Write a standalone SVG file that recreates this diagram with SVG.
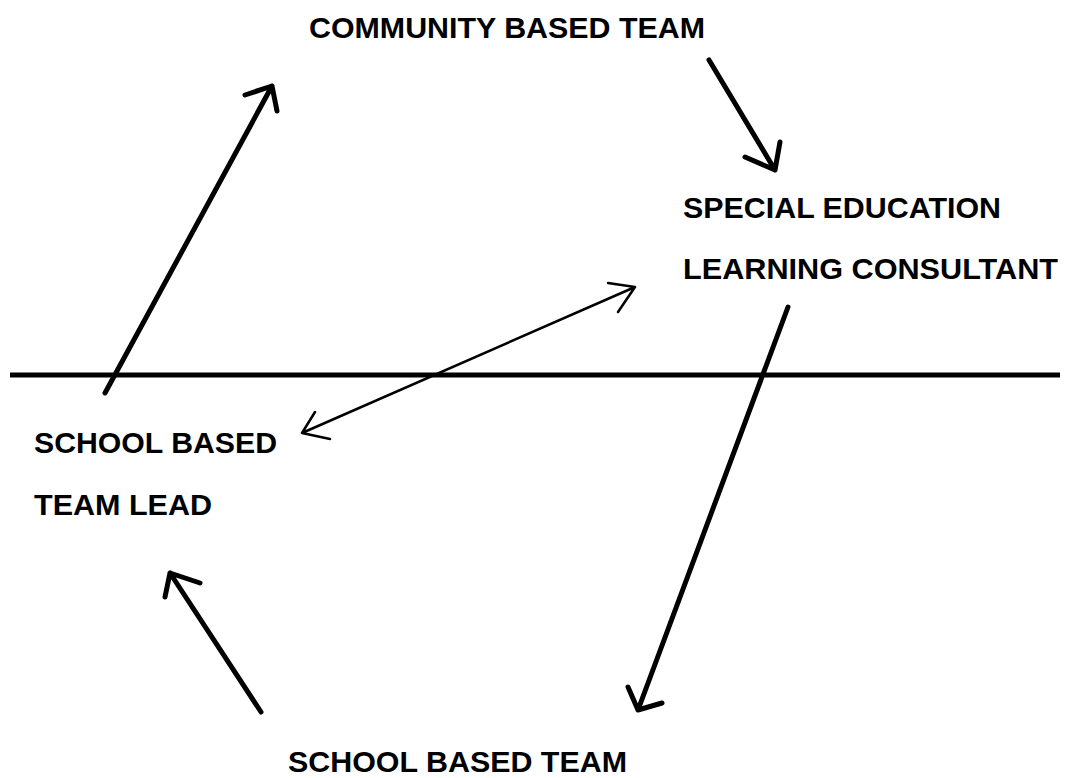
<svg xmlns="http://www.w3.org/2000/svg" width="1067" height="778" viewBox="0 0 1067 778">
<style>
.lbl{font-family:"Liberation Sans",Arial,sans-serif;font-weight:bold;font-size:30px;fill:#000}
.thick{fill:none;stroke:#000;stroke-width:5;stroke-linecap:round;stroke-linejoin:round}
.thin{fill:none;stroke:#000;stroke-width:2.5;stroke-linecap:round;stroke-linejoin:round}
</style>
<rect width="1067" height="778" fill="#fff"/>
<g id="connectors">
<line x1="10" y1="375" x2="1060" y2="375" stroke="#000" stroke-width="5"/>
<path class="thick" d="M105 393 L272 86 M245 95 L272 86 L277 111"/>
<path class="thick" d="M709 60 L775 170 M745 157 L775 170 L780 142"/>
<path class="thin" d="M302 433 L635 287 M608 283 L635 287 L618 312 M315 412 L302 433 L330 439"/>
<path class="thick" d="M788 307 L638 710 M628 687 L638 710 L662 703"/>
<path class="thick" d="M261 712 L170 573 M165 597 L170 573 L200 583"/>
</g>
<g id="community"><text class="lbl" x="309" y="38" textLength="396" lengthAdjust="spacingAndGlyphs">COMMUNITY BASED TEAM</text></g>
<g id="consultant"><text class="lbl" x="683" y="218" textLength="318" lengthAdjust="spacingAndGlyphs">SPECIAL EDUCATION</text><text class="lbl" x="683" y="279" textLength="375" lengthAdjust="spacingAndGlyphs">LEARNING CONSULTANT</text></g>
<g id="teamlead"><text class="lbl" x="34" y="453" textLength="243" lengthAdjust="spacingAndGlyphs">SCHOOL BASED</text><text class="lbl" x="34" y="515" textLength="178" lengthAdjust="spacingAndGlyphs">TEAM LEAD</text></g>
<g id="schoolteam"><text class="lbl" x="288" y="772" textLength="339" lengthAdjust="spacingAndGlyphs">SCHOOL BASED TEAM</text></g>
</svg>
